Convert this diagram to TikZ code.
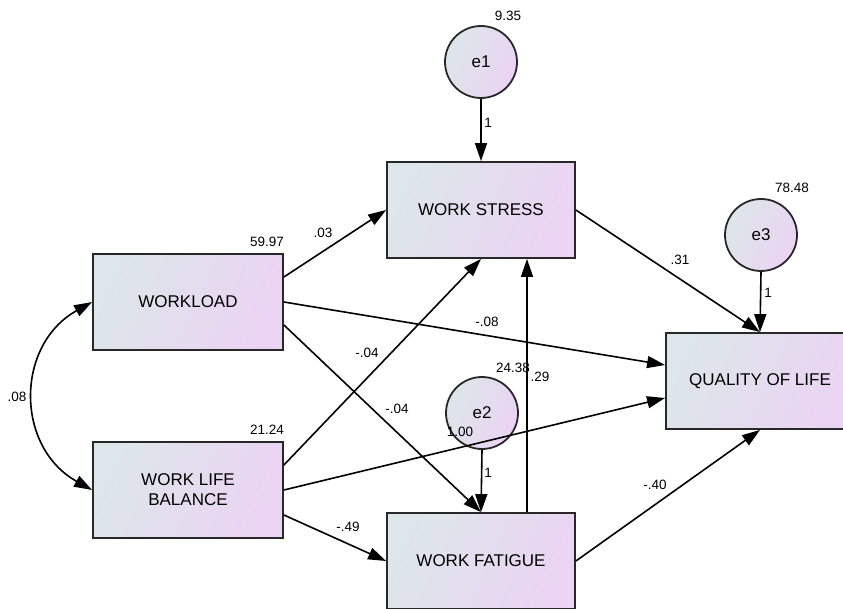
\documentclass[tikz,border=0pt]{standalone}
\usepackage{fontspec}
\setmainfont{Liberation Sans}
\usetikzlibrary{arrows.meta,positioning,shapes.geometric}
\definecolor{fillleft}{RGB}{221,230,234}
\definecolor{fillright}{RGB}{235,211,243}
\definecolor{edgegray}{RGB}{40,40,40}

\begin{document}
\begin{tikzpicture}[x=1pt,y=-1pt,
		varbox/.style={draw=edgegray, line width=1.8pt, rectangle, left color=fillleft, right color=fillright, shading angle=65, minimum width=188pt, minimum height=96pt, inner sep=0pt, align=center, font=\fontsize{17}{20}\selectfont},
		errnode/.style={draw=edgegray, line width=1.8pt, circle, left color=fillleft, right color=fillright, shading angle=65, minimum size=72pt, inner sep=0pt, font=\fontsize{17}{20}\selectfont},
		num/.style={inner sep=1pt, font=\fontsize{13.5}{15}\selectfont},
		path/.style={line width=1.6pt, -{Triangle[length=18pt,width=12pt]}}
	]
	\useasboundingbox (0,0) rectangle (843,609);

	% Exogenous
	\node[varbox, minimum width=190pt] (wl) at (188,302) {WORKLOAD};
	\node[varbox, minimum width=190pt] (wlb) at (188,490) {WORK LIFE\\BALANCE};

	% Endogenous
	\node[varbox] (ws) at (481,210) {WORK STRESS};
	\node[varbox] (wf) at (481,561) {WORK FATIGUE};
	\node[varbox] (qol) at (760,381) {QUALITY OF LIFE};

	% Errors
	\node[errnode] (e1) at (481,62) {e1};
	\node[errnode] (e2) at (482,413) {e2};
	\node[errnode] (e3) at (761,235) {e3};

	% Paths
	\draw[path] ([yshift=25pt]wl.east) -- (ws.west);
	\draw[path] (wl.east) -- ([yshift=16pt]qol.west);
	\draw[path] ([yshift=-23pt]wl.east) -- (wf.north);
	\draw[path] ([yshift=25pt]wlb.east) -- (ws.south);
	\draw[path] (wlb.east) -- ([yshift=-17pt]qol.west);
	\draw[path] ([yshift=-25pt]wlb.east) -- (wf.west);
	\draw[path] ([xshift=46pt]wf.north) -- ([xshift=46pt]ws.south);
	\draw[path] (ws.east) -- (qol.north);
	\draw[path] (wf.east) -- (qol.south);
	\draw[path] (e1.south) -- (ws.north);
	\draw[path] (e2.south) -- (wf.north);
	\draw[path] (e3.south) -- (qol.north);

	% Covariance
	\draw[line width=1.6pt, {Triangle[length=18pt,width=12pt]}-{Triangle[length=18pt,width=12pt]}] (wl.west) .. controls +(-77,43) and +(-77,-43) .. (wlb.west);

	% Estimates
	\node[num] (v1) at (508,16) {9.35};
	\node[num] (v3) at (792,188) {78.48};
	\node[num] (vwl) at (267,242) {59.97};
	\node[num] (vwlb) at (267,430) {21.24};
	\node[num] (v2) at (513,368) {24.38};
	\node[num] (r2) at (460,432) {1.00};
	\node[num] (cov) at (17,397) {.08};
	\node[num] (b1) at (323,233) {.03};
	\node[num] (b2) at (487,322) {-.08};
	\node[num] (b3) at (367,353) {-.04};
	\node[num] (b4) at (397,409) {-.04};
	\node[num] (b5) at (680,260) {.31};
	\node[num] (b6) at (540,377) {.29};
	\node[num] (b7) at (348,527) {-.49};
	\node[num] (b8) at (655,485) {-.40};
	\node[num] (f1) at (488,123) {1};
	\node[num] (f2) at (488,473) {1};
	\node[num] (f3) at (768,293) {1};
\end{tikzpicture}
\end{document}
